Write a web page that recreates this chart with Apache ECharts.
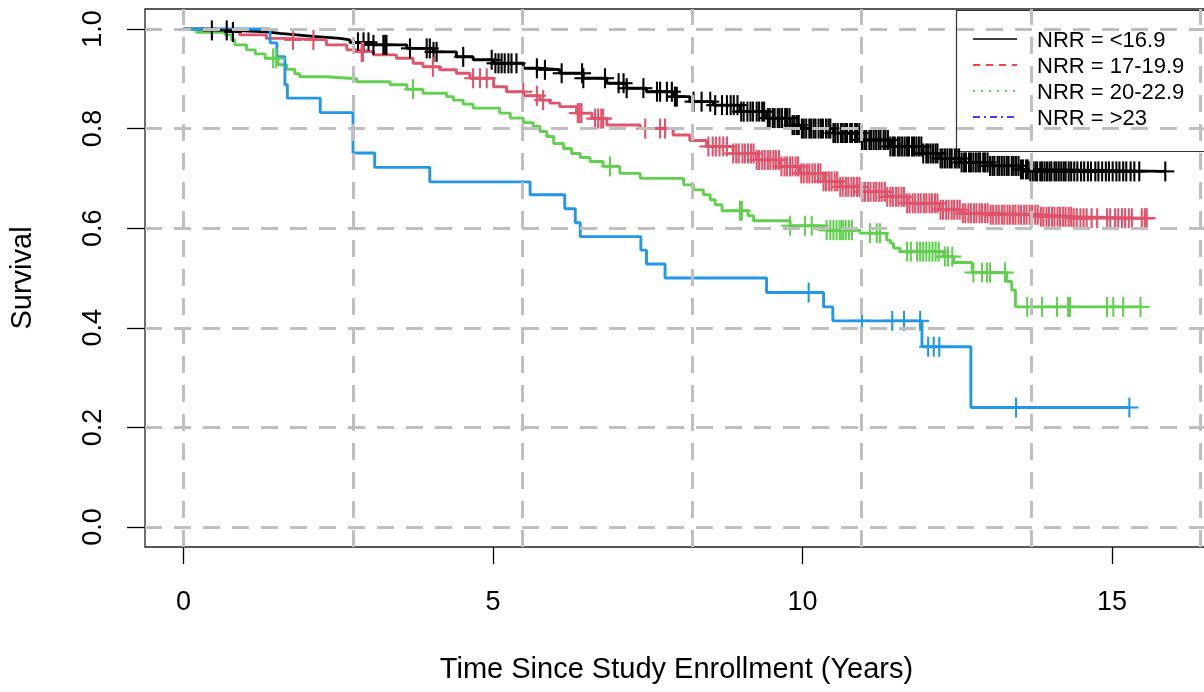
<!doctype html>
<html>
<head>
    <title>NRR survival</title>
    <script src="https://cdn.jsdelivr.net/npm/echarts@6/dist/echarts.min.js"></script>
</head>
<style>
    html, body { margin: 0; padding: 0; background: #fff; }
    #chart { width: 1204px; height: 692px; }
</style>
<body>
<div id="chart"></div>
<script>
  // step curves: time of each drop and survival after it
  var blackTime = [0, 0.30, 0.80, 1.34, 1.56, 1.83, 2.10, 2.53, 2.69, 3.07, 3.61, 4.04, 4.41, 4.68, 5.01, 5.49, 5.76, 6.08, 6.46, 6.84, 7.16, 7.48, 7.91, 8.18, 8.56, 8.99, 9.42, 9.80, 9.96, 10.50, 10.93, 11.42, 11.95, 12.22, 12.55, 13.03, 13.51, 13.68, 15.86];
  var blackSurv = [1, 0.997, 0.994, 0.991, 0.988, 0.985, 0.981, 0.978, 0.973, 0.968, 0.961, 0.954, 0.944, 0.938, 0.931, 0.921, 0.918, 0.911, 0.901, 0.891, 0.881, 0.874, 0.864, 0.854, 0.847, 0.834, 0.821, 0.807, 0.800, 0.791, 0.777, 0.764, 0.750, 0.740, 0.732, 0.725, 0.718, 0.714, 0.714];

  var redTime = [0, 0.54, 0.91, 1.34, 1.61, 2.31, 2.64, 2.80, 3.07, 3.44, 3.71, 3.87, 4.14, 4.41, 4.63, 5.01, 5.22, 5.50, 5.76, 5.92, 6.08, 6.35, 6.60, 6.84, 7.38, 7.91, 8.18, 8.45, 8.88, 9.26, 9.64, 9.96, 10.34, 10.61, 10.93, 11.36, 11.69, 12.22, 12.55, 13.03, 13.84, 14.38, 15.56];
  var redSurv = [1, 0.995, 0.988, 0.981, 0.978, 0.968, 0.958, 0.954, 0.948, 0.941, 0.931, 0.924, 0.918, 0.911, 0.901, 0.884, 0.874, 0.866, 0.857, 0.851, 0.844, 0.831, 0.820, 0.807, 0.800, 0.787, 0.776, 0.764, 0.750, 0.737, 0.724, 0.710, 0.694, 0.683, 0.673, 0.663, 0.650, 0.637, 0.630, 0.627, 0.623, 0.620, 0.620];

  var greenTime = [0, 0.21, 0.67, 0.78, 0.83, 1.02, 1.16, 1.32, 1.53, 1.67, 1.80, 1.88, 2.31, 2.80, 3.34, 3.61, 3.87, 4.25, 4.36, 4.52, 4.68, 5.11, 5.28, 5.49, 5.65, 5.76, 5.87, 5.98, 6.14, 6.27, 6.41, 6.57, 6.78, 7.05, 7.38, 8.08, 8.24, 8.40, 8.51, 8.59, 8.70, 9.12, 9.21, 9.80, 10.39, 10.93, 11.36, 11.42, 11.47, 11.58, 12.28, 12.44, 12.74, 13.30, 13.38, 13.44, 15.46];
  var greenSurv = [1, 0.993, 0.988, 0.978, 0.968, 0.958, 0.950, 0.941, 0.928, 0.919, 0.910, 0.904, 0.900, 0.894, 0.888, 0.879, 0.871, 0.864, 0.857, 0.849, 0.841, 0.831, 0.821, 0.812, 0.804, 0.794, 0.784, 0.770, 0.760, 0.750, 0.742, 0.734, 0.724, 0.710, 0.700, 0.687, 0.677, 0.667, 0.657, 0.647, 0.635, 0.625, 0.615, 0.605, 0.596, 0.590, 0.576, 0.570, 0.560, 0.553, 0.543, 0.531, 0.511, 0.493, 0.476, 0.442, 0.442];

  var blueTime = [0, 1.40, 1.51, 1.64, 1.68, 2.21, 2.74, 3.09, 3.98, 5.60, 6.16, 6.33, 6.41, 7.39, 7.48, 7.78, 9.42, 10.34, 10.49, 11.93, 12.72, 15.28];
  var blueSurv = [1, 0.972, 0.944, 0.888, 0.861, 0.832, 0.751, 0.722, 0.693, 0.667, 0.639, 0.611, 0.583, 0.556, 0.528, 0.500, 0.471, 0.442, 0.414, 0.362, 0.240, 0.240];

  // censoring times (+ marks)
  var blackCens = [0.46, 0.70, 0.80, 2.82, 2.91, 2.99, 3.07, 3.23, 3.26, 3.28, 3.66, 3.93, 3.98, 4.04, 4.09, 4.52, 4.98, 5.04, 5.09, 5.14, 5.19, 5.25, 5.30, 5.38, 5.71, 5.84, 6.11, 6.44, 6.46, 6.81, 7.03, 7.11, 7.16, 7.43, 7.65, 7.70, 7.81, 7.89, 7.94, 7.97, 8.24, 8.37, 8.51, 8.59, 8.70, 8.78,
    8.84, 8.89, 8.95, 9.01, 9.05, 9.11, 9.16, 9.20, 9.26, 9.30, 9.35, 9.38, 9.44, 9.47, 9.52, 9.55, 9.60, 9.63, 9.67, 9.72, 9.75, 9.79, 9.84, 9.87, 9.91, 9.94, 9.99, 10.02, 10.06, 10.11, 10.14, 10.18, 10.21, 10.26, 10.30, 10.33, 10.38, 10.42, 10.45, 10.50, 10.53, 10.57, 10.62, 10.65, 10.69, 10.72, 10.77, 10.80, 10.85, 10.88, 10.92, 10.96,
    11.00, 11.03, 11.08, 11.11, 11.15, 11.19, 11.23, 11.26, 11.31, 11.34, 11.38, 11.42, 11.46, 11.49, 11.54, 11.57, 11.61, 11.65, 11.69, 11.72, 11.77, 11.80, 11.84, 11.88, 11.92, 11.95, 12.00, 12.03, 12.07, 12.11, 12.15, 12.18, 12.23, 12.26, 12.30, 12.34, 12.38, 12.41, 12.46, 12.49, 12.53, 12.57, 12.61, 12.64, 12.69, 12.72, 12.76, 12.80, 12.84, 12.87, 12.92, 12.95, 12.99,
    13.03, 13.07, 13.10, 13.15, 13.18, 13.22, 13.26, 13.30, 13.33, 13.38, 13.41, 13.45, 13.49, 13.53, 13.56, 13.61, 13.64, 13.68, 13.72, 13.76, 13.79, 13.84, 13.87, 13.91, 13.95, 13.99, 14.02, 14.07, 14.10, 14.14, 14.18, 14.22, 14.25, 14.30, 14.34, 14.39, 14.44, 14.50, 14.55, 14.61, 14.66, 14.73, 14.78, 14.84, 14.90, 14.95, 15.01, 15.07, 15.12, 15.18, 15.23, 15.30, 15.36, 15.44, 15.86];

  var redCens = [1.77, 2.10, 2.88, 2.90, 4.03, 4.68, 4.79, 4.90, 5.49, 5.71, 5.81, 6.37, 6.40, 6.43, 6.65, 6.70, 6.75, 6.78, 7.46, 7.70, 7.78, 8.48, 8.55, 8.60, 8.66, 8.72, 8.78,
    8.88, 8.93, 8.97, 9.03, 9.07, 9.12, 9.17, 9.21, 9.26, 9.30, 9.35, 9.39, 9.44, 9.48, 9.53, 9.57, 9.62, 9.66, 9.71, 9.75, 9.80, 9.84, 9.89, 9.93, 9.98, 10.02, 10.07, 10.11, 10.16, 10.20, 10.25, 10.29, 10.34, 10.38, 10.43, 10.47, 10.52, 10.56, 10.61, 10.65, 10.70, 10.74, 10.79, 10.83, 10.88, 10.92, 10.97,
    11.01, 11.06, 11.10, 11.15, 11.19, 11.24, 11.28, 11.33, 11.37, 11.42, 11.46, 11.51, 11.55, 11.60, 11.64, 11.69, 11.73, 11.78, 11.82, 11.87, 11.91, 11.96, 12.00, 12.05, 12.09, 12.14, 12.18, 12.23, 12.27, 12.32, 12.36, 12.41, 12.45, 12.50, 12.54, 12.59, 12.63, 12.68, 12.72, 12.77, 12.81, 12.86, 12.90, 12.95, 12.99,
    13.04, 13.08, 13.13, 13.17, 13.22, 13.26, 13.31, 13.35, 13.40, 13.44, 13.49, 13.53, 13.58, 13.62, 13.67, 13.71, 13.76, 13.80, 13.85, 13.89, 13.94, 13.98, 14.03, 14.07, 14.12, 14.16, 14.21, 14.25, 14.30, 14.34, 14.38,
    14.43, 14.49, 14.54, 14.59, 14.67, 14.76, 14.92, 14.97, 15.05, 15.10, 15.16, 15.21, 15.27, 15.32, 15.48, 15.53, 15.56];

  var greenCens = [1.45, 1.50, 3.71, 6.89, 8.99, 9.02, 9.80, 10.04, 10.15, 10.39, 10.45, 10.50, 10.55, 10.60, 10.63, 10.66, 10.70, 10.75, 10.80, 11.09, 11.20, 11.25, 11.69, 11.75, 11.85, 11.90, 11.95, 12.00, 12.05, 12.10, 12.15, 12.20, 12.30, 12.35, 12.42, 12.76, 12.90, 12.98, 13.03, 13.27, 13.63, 13.87, 14.11, 14.29, 14.32, 14.92, 15.02, 15.18, 15.46];

  var blueCens = [10.10, 10.96, 11.45, 11.64, 11.90, 12.03, 12.12, 12.21, 13.45, 15.28];

  var groupNames = ['NRR = <16.9', 'NRR = 17-19.9', 'NRR = 20-22.9', 'NRR = >23'];
  var curveColors = ['#000000', '#DF536B', '#61D04F', '#2297E6'];
  var legendColors = ['#000000', '#FF0000', '#00CD00', '#0000FF'];
  var legendDash = [null, [7, 6], [2, 6], [7, 4, 2, 4]];

  var xTicks = [0, 5, 10, 15];
  var yTicks = [0, 0.2, 0.4, 0.6, 0.8, 1.0];
  var gridX = [0, 2.74, 5.48, 8.22, 10.95, 13.69, 16.43];

  var font = "'Liberation Sans', Arial, sans-serif";

  function zip(a, b) {
    return a.map(function (v, i) { return [v, b[i]]; });
  }

  function survAt(times, surv, t) {
    var s = surv[0];
    for (var i = 0; i < times.length; i++) {
      if (times[i] <= t) s = surv[i]; else break;
    }
    return s;
  }

  function censorPoints(cens, times, surv) {
    return cens.map(function (t) { return [t, survAt(times, surv, t)]; });
  }

  function plusMark(params, api) {
    var p = api.coord([api.value(0), api.value(1)]);
    var st = { stroke: api.visual('color'), lineWidth: 2.1 };
    return {
      type: 'group',
      children: [
        { type: 'line', shape: { x1: p[0], y1: p[1] - 10, x2: p[0], y2: p[1] + 10 }, style: st },
        { type: 'line', shape: { x1: p[0] - 9, y1: p[1], x2: p[0] + 9, y2: p[1] }, style: st }
      ]
    };
  }

  var curves = [
    [blackTime, blackSurv, blackCens],
    [redTime, redSurv, redCens],
    [greenTime, greenSurv, greenCens],
    [blueTime, blueSurv, blueCens]
  ];

  var series = [];
  curves.forEach(function (c, i) {
    series.push({
      name: groupNames[i],
      type: 'line',
      step: 'end',
      symbol: 'none',
      data: zip(c[0], c[1]),
      lineStyle: { color: curveColors[i], width: 2.9 },
      itemStyle: { color: curveColors[i] },
      z: 3
    });
  });
  curves.forEach(function (c, i) {
    series.push({
      name: 'cens' + i,
      type: 'custom',
      renderItem: plusMark,
      data: censorPoints(c[2], c[0], c[1]),
      itemStyle: { color: curveColors[i] },
      z: 4
    });
  });

  // dashed reference grid drawn on top
  var gridLines = gridX.map(function (v) { return { xAxis: v }; })
    .concat(yTicks.map(function (v) { return { yAxis: v }; }));
  series.push({
    name: 'grid',
    type: 'line',
    data: [],
    z: 10,
    markLine: {
      silent: true,
      symbol: ['none', 'none'],
      label: { show: false },
      lineStyle: { color: '#BEBEBE', type: [17, 12], width: 3 },
      data: gridLines
    }
  });

  // legend box in the top right corner, as R's legend() draws it
  var legendGraphics = [{
    type: 'rect', left: 954, top: 8, z: 1,
    shape: { width: 262, height: 141 },
    style: { fill: 'none', stroke: '#333', lineWidth: 1.2 }
  }];
  groupNames.forEach(function (n, i) {
    var y = 39 + i * 26;
    legendGraphics.push({
      type: 'line', z: 1,
      shape: { x1: 973, y1: y, x2: 1017, y2: y },
      style: { stroke: legendColors[i], lineWidth: 1.4, lineDash: legendDash[i] }
    });
    legendGraphics.push({
      type: 'text', z: 1, x: 1037, y: y + 2,
      style: { text: n, fill: '#000', font: '22px ' + font, textVerticalAlign: 'middle' }
    });
  });

  var chart = echarts.init(document.getElementById('chart'));
  chart.setOption({
    backgroundColor: '#fff',
    animation: false,
    textStyle: { fontFamily: font },
    grid: {
      left: 145, top: 9, width: 1063, height: 538,
      containLabel: false, outerBoundsMode: 'none',
      show: true, borderColor: '#222', borderWidth: 1.3
    },
    graphic: legendGraphics,
    xAxis: {
      type: 'value', min: -0.62, max: 16.55,
      axisLine: { show: false, onZero: false },
      splitLine: { show: false },
      axisTick: { show: true, inside: false, customValues: xTicks, length: 17, lineStyle: { color: '#000', width: 1.3 } },
      axisLabel: { customValues: xTicks, fontSize: 27, color: '#000', margin: 32, fontFamily: font },
      name: 'Time Since Study Enrollment (Years)',
      nameLocation: 'middle', nameGap: 98,
      nameTextStyle: { fontSize: 29, color: '#000', fontFamily: font }
    },
    yAxis: {
      type: 'value', min: -0.04, max: 1.04,
      axisLine: { show: false, onZero: false },
      splitLine: { show: false },
      axisTick: { show: true, inside: false, customValues: yTicks, length: 18, lineStyle: { color: '#000', width: 1.3 } },
      axisLabel: {
        customValues: yTicks, fontSize: 27, color: '#000', margin: 28, rotate: 90, fontFamily: font,
        formatter: function (v) { return v.toFixed(1); }
      },
      name: 'Survival',
      nameLocation: 'middle', nameGap: 97,
      nameTextStyle: { fontSize: 29, color: '#000', fontFamily: font }
    },
    series: series
  });
</script>
</body>
</html>
